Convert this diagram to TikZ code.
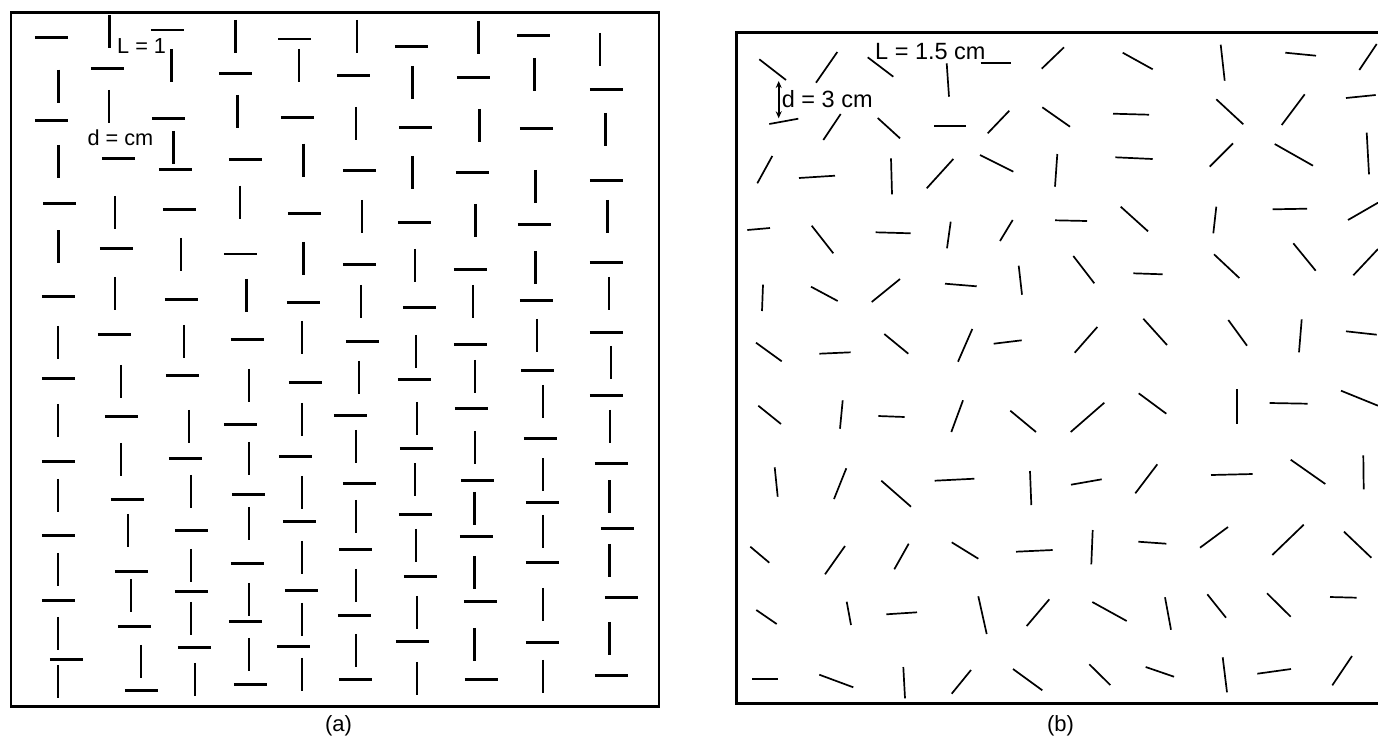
\documentclass[tikz,border=0pt]{standalone}
\usepackage{fontspec}
\setmainfont{Liberation Sans}
\usetikzlibrary{arrows.meta}
\begin{document}
\begin{tikzpicture}[x=1pt,y=-1pt,
  frame/.style={line width=2.8pt},
  sega/.style={line width=2.8pt},
  segb/.style={line width=1.7pt},
  lbla/.style={anchor=base west,inner sep=0pt,font=\fontsize{21.7}{26}\selectfont},
  lblb/.style={anchor=base west,inner sep=0pt,font=\fontsize{23.5}{28}\selectfont},
  capt/.style={anchor=base,inner sep=0pt,font=\fontsize{22}{26}\selectfont}]
\useasboundingbox (0,0) rectangle (1378,740);
% ---------- panel (a)
\draw[frame] (11,12.7) rectangle (659,706.7);
\foreach \x/\y in {51.3/37.3,167.3/30,294.7/39,107.3/68.7,235.3/73.3,51.3/120.3,168.3/118.3,297.3/117.7,118.3/158.7,175.3/169.7,245.3/159.7,59.7/203.3,179.3/209.7,304.3/213.3,
411.3/46.7,533.3/35.3,353.3/75.7,473.3/77.7,606.3/89.7,415.3/127.7,536.3/128.7,359.3/170.7,472.3/172.7,606.3/180.7,414.3/222.3,534.3/224.7,
116.3/248.7,240.3/254,58.3/296.7,181.3/299.7,303.3/302.7,114.3/334.7,247.3/339.7,58.3/378.7,182.3/375.7,305.3/382.7,121.3/416.7,240.3/424.7,58.3/461.7,185.3/458.7,295.3/456.7,
359.3/264.7,470.3/269.7,606.3/262.7,419.3/307.7,536.3/300.7,362.3/341.7,470.3/344.7,606.3/332.7,414.3/379.7,537.3/370.7,350.3/415.7,471.3/408.7,606.3/395.7,416.3/448.7,540.3/438.7,611.3/463.7,
127.3/499.7,248.3/494.7,58.3/535.7,191.3/530.7,299.3/521.7,131.3/571.3,247.3/563.7,58.3/600.7,191.3/591.7,301.3/590.7,134.3/626.3,245.3/621.7,66.3/659.7,194.3/647.7,293.3/646.7,141.3/690.7,250.3/684.7,
359.3/483.7,477.3/480.7,415.3/514.7,542.3/502.7,617.3/528.7,355.3/549.7,476.3/536.7,542.3/562.3,420.3/576.7,621.3/597.3,354.3/615.7,480.3/601.7,412.3/641.7,542.3/642.7,355.3/679.7,481.3/679.7,611.3/675.7}
  \draw[sega] ({\x-16.5},\y) -- ({\x+16.5},\y);
\foreach \x/\y in {109.3/31.3,235.7/36.3,171.7/65.3,58.3/86,299/65.3,109/106.3,237.7/111.3,58.3/161.3,173.7/147.3,303.7/160,115/212.3,240/202,
357/36.3,478.7/37.3,600/49.3,412.7/82.3,534.7/74.3,356/123.3,479.7/125.3,605.7/129.3,412.7/172.3,535.7/186.3,362/216.3,475.7/220.3,607.7/216.3,
58.3/246.5,181/254.3,303.7/258.3,115/293.3,246.7/295.3,58/342.3,184/341.3,302/337.3,121/381.3,249/385.3,58/420.3,189/426.3,302/419.3,121/459.3,249/458.3,
415/265.3,535.7/267.3,361/301.3,473/301.3,609/293.3,416/351.3,537/335.3,359/377.3,475/376.3,611/362.3,417/418.3,543/401.3,356/446.3,475/447.3,610/426.3,415/479.5,543/474.5,
58/495.3,191/491.3,302/492.3,128/530.3,249/523.3,58/569.3,191/565.3,302/557.3,131/595.3,249/599.3,58/633.3,191/618.3,302/619.3,141/661.3,249/654.3,58/681.3,195/679.3,302/674.3,
609.7/496.7,356/516.3,474.7/508.3,416/545.3,543/531.3,609.7/560.3,356/585.3,474.7/572.3,543/604.3,417/612.3,609.7/638.3,356/650.3,474.7/644.3,417/678.3,543/676.3}
  \draw[sega] (\x,{\y-16.5}) -- (\x,{\y+16.5});
\node[lbla] (La) at (117,53.3) {L = 1};
\node[lbla] (da) at (87.3,145) {d = cm};
\node[capt] (capa) at (338.5,731) {(a)};
% ---------- panel (b)
\draw[frame] (1382,32.3) -- (736.7,32.3) -- (736.7,703.3) -- (1382,703.3);
\foreach \a/\b/\c/\d in {759.3/59.3/786/80,816/82.7/837.3/52,867.7/57.3/893.3/76.7,946.7/63.3/949/96.7,980.7/62.7/1010.7/62.7,1041.7/68.7/1064/47.3,
769.3/124/798.3/118.7,823.3/140/840.7/114,877.7/118/900/138.3,934/126/966/126,987.7/133.3/1009.3/110.7,1042.3/107.3/1070/126.7,
757.3/183.3/772.3/156,799/178/835/175.7,891/158.3/892/194.3,926.7/188.3/953.3/159,980/155/1013.3/171.7,1055/186.7/1057.3/154,
747.3/230/770/228,811.7/225.7/833.3/253.3,875.7/232.3/910.7/233.3,947/248.3/950.7/221.7,1000/241/1012.7/220,1055/220.3/1087/221,
1122.7/52.7/1152.7/69.3,1220.7/44.7/1224.7/80.7,1285.3/52.7/1316/55.7,1359.3/70/1376.7/44,
1113/113.7/1149/114.7,1216.3/99.3/1243.3/124.3,1281.7/125/1304.7/94.3,1346/98/1375.7/95,
1115.3/157.3/1152.7/159,1209.7/166.7/1233/143.3,1274.7/144/1313/165.7,1366.7/132.7/1369/174.3,
1120.7/206.7/1148/231.3,1213.3/233.3/1216.3/206.7,1272.7/209.3/1307/208.7,1348/220/1378/202.7,
763/284.7/762/311,811/286.7/837.7/301,871.7/302/900/279,945/283.7/976.7/286.3,1018.7/265.7/1022/294.7,
756/342.7/781.7/361.3,819.3/353.7/850.7/352.3,884.3/334/908.3/353.7,958/361.7/972.3/329,993.7/343.7/1021.7/340.3,
758.3/405.7/781/424,842.7/400.3/840/428.7,878.3/416/904.7/417,951.3/432/963/400.3,1010.3/410.7/1036/432,
774.7/467.3/777.7/496.7,846.3/468.3/834/499,881.3/480.7/911/506.7,934.7/480.7/974.3/478.7,1030/471/1031.3/505,
1073.3/256/1094.3/283.3,1133.3/273.3/1162.7/274.3,1214/254.3/1239.3/278,1293.3/243.3/1315.7/270.7,1353.3/275.3/1378/249,
1074.7/352.7/1097.3/327,1143.3/318.7/1167/345,1228.3/320/1247/345.7,1301.7/319.3/1299/352.3,1346/331.3/1376.7/334.7,
1070.7/432/1104.3/402.7,1138.7/393.3/1166.3/413.7,1237/389.3/1237/423.7,1269.7/403/1307.7/403.7,1341/390.7/1378/405.7,
1071/484.7/1101.7/479.3,1135.3/493.3/1157.3/464.3,1211/475/1252.7/474,1290.7/459.7/1325.3/484,1363.3/455.3/1363.7/489.3,
750.3/546.7/769.3/562.7,825/574.3/845/546,894.3/569.3/908.7/543.7,951.7/542.3/978.3/558.7,1016/551.7/1052.7/550,
756.3/610/776.7/624,846.7/601.7/851/625,886.3/614.3/917/612.3,978.3/596.3/986.7/634,1026.7/626/1049.3/599.3,
752.3/679/777.7/679,819.3/674.7/853.3/687.3,903.3/667/905/698.3,951.7/693.7/971/670,1013/669/1042.3/690.3,
1092.7/530/1091.3/564.3,1138.3/541.7/1166.3/543.7,1200/547.7/1228/527,1272.3/555/1303.7/524.7,1344/531.7/1371.3/557.7,
1092.3/602/1126.7/621,1165/597.3/1171/629.7,1207.3/594.3/1226/617.7,1267/593.3/1290.7/616.7,1330/597/1356.7/597.7,
1089.3/664.3/1110.3/685,1145.7/667/1174/676.7,1222.7/657.3/1227/692.3,1257.3/673.7/1291/669,1332.3/685.3/1352/656}
  \draw[segb] (\a,\b) -- (\c,\d);
\coordinate (dtop) at (778.7,81);
\coordinate (dbot) at (778.7,118.3);
\draw[line width=1.7pt,{Stealth[length=7pt,width=6pt]}-{Stealth[length=7pt,width=6pt]}] (dtop) -- (dbot);
\node[lblb] (Lb) at (875,59.3) {L = 1.5 cm};
\node[lblb] (db) at (781.7,107.3) {d = 3 cm};
\node[capt] (capb) at (1060.5,731) {(b)};
\end{tikzpicture}
\end{document}
